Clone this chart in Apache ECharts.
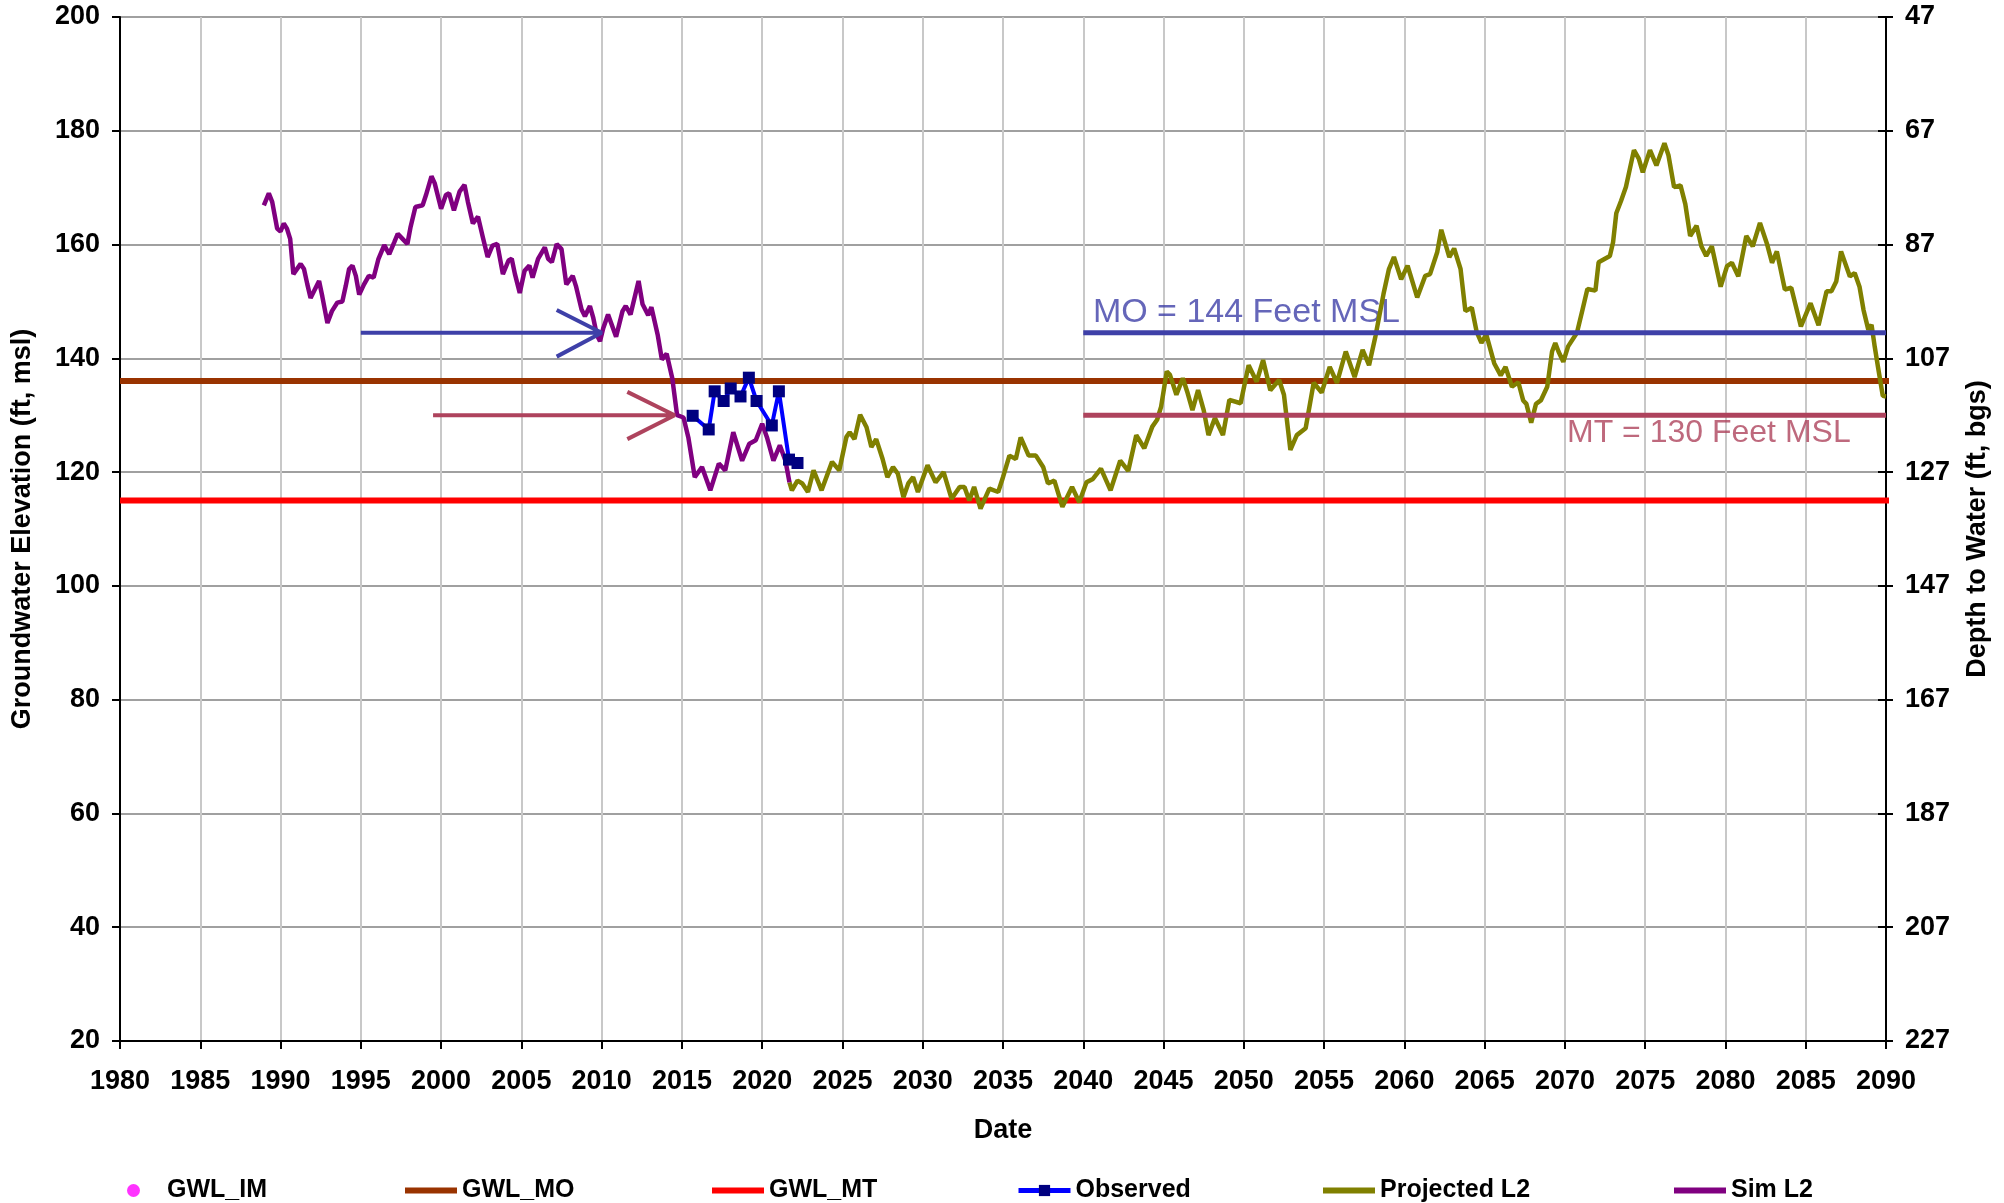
<!DOCTYPE html>
<html>
<head>
<meta charset="utf-8">
<title>Groundwater Elevation</title>
<script src="https://cdn.jsdelivr.net/npm/echarts@6/dist/echarts.min.js"></script>
<style>
  html, body { margin: 0; padding: 0; background: #fff; }
  #chart { width: 2004px; height: 1203px; }
</style>
</head>
<body>
<div id="chart"></div>
<script>
// values, [year, elevation ft msl]
const simL2 = [
  [1988.96,166.9],[1989.27,169.0],[1989.48,167.5],[1989.79,162.8],[1990.0,162.3],[1990.2,163.7],[1990.4,162.8],
  [1990.6,161.0],[1990.8,154.8],[1991.25,156.6],[1991.46,155.7],[1991.67,153.0],[1991.87,150.6],[1992.08,151.8],
  [1992.4,153.6],[1992.6,150.9],[1992.92,146.2],[1993.2,148.3],[1993.54,149.8],[1993.85,150.0],[1994.06,152.7],
  [1994.27,155.7],[1994.48,156.3],[1994.69,154.5],[1994.9,151.2],[1995.2,153.0],[1995.5,154.5],[1995.8,154.2],
  [1996.1,157.5],[1996.46,159.9],[1996.77,158.3],[1997.08,160.4],[1997.3,161.9],[1997.6,161.0],[1997.9,160.1],
  [1998.1,163.1],[1998.4,166.6],[1998.85,166.9],[1999.06,168.7],[1999.4,172.0],[1999.6,170.8],[2000.0,166.3],
  [2000.3,168.7],[2000.5,169.0],[2000.8,166.0],[2001.15,169.3],[2001.46,170.5],[2001.67,167.5],[2001.98,163.7],
  [2002.3,164.9],[2002.6,161.3],[2002.9,157.8],[2003.2,159.8],[2003.5,160.1],[2003.85,154.8],[2004.2,157.2],
  [2004.4,157.5],[2004.6,154.8],[2004.9,151.5],[2005.2,155.4],[2005.5,156.3],[2005.7,154.2],[2006.04,157.5],
  [2006.46,159.5],[2006.67,157.5],[2006.9,156.9],[2007.2,160.1],[2007.5,159.2],[2007.8,153.0],[2008.2,154.5],
  [2008.4,152.7],[2008.75,148.6],[2008.96,147.4],[2009.27,149.2],[2009.48,147.1],[2009.7,144.1],[2009.9,143.0],
  [2010.1,145.3],[2010.4,147.7],[2010.9,143.8],[2011.3,148.3],[2011.5,149.2],[2011.8,147.7],[2012.3,153.6],
  [2012.55,149.5],[2012.9,147.6],[2013.1,149.0],[2013.5,144.0],[2013.75,139.8],[2014.05,140.8],[2014.4,136.5],
  [2014.7,130.0],[2015.1,129.6],[2015.4,126.1],[2015.8,119.1],[2016.25,120.9],[2016.77,116.8],[2017.3,121.5],
  [2017.7,120.3],[2018.2,127.0],[2018.75,122.0],[2019.2,125.0],[2019.6,125.6],[2020.0,128.5],[2020.3,126.1],
  [2020.7,122.0],[2021.1,124.7],[2021.45,122.0],[2021.7,118.2]
];

const observed = [
  [2015.67,129.9],[2016.67,127.5],[2017.04,134.2],[2017.6,132.5],[2018.04,134.7],[2018.65,133.3],
  [2019.17,136.6],[2019.65,132.5],[2020.6,128.2],[2021.04,134.2],[2021.67,122.2],[2022.2,121.6]
];

const projectedL2 = [
  [2021.7,118.2],[2021.85,116.8],[2022.2,118.5],[2022.5,118.0],[2022.85,116.5],[2023.2,120.3],[2023.7,116.8],
  [2024.35,121.8],[2024.8,120.3],[2025.25,126.2],[2025.45,127.0],[2025.75,125.8],[2026.1,130.1],[2026.5,127.9],
  [2026.8,124.4],[2027.1,125.8],[2027.5,122.3],[2027.8,119.1],[2028.15,120.9],[2028.45,119.7],[2028.8,115.6],
  [2029.1,118.0],[2029.4,119.1],[2029.7,116.5],[2030.3,121.2],[2030.8,118.2],[2031.3,120.0],[2031.8,115.3],
  [2032.3,117.4],[2032.6,117.4],[2032.9,115.0],[2033.2,117.4],[2033.6,113.6],[2034.15,117.1],[2034.7,116.5],
  [2035.0,119.1],[2035.4,122.9],[2035.8,122.3],[2036.1,126.1],[2036.6,122.9],[2037.05,122.9],[2037.5,120.9],
  [2037.8,118.0],[2038.2,118.5],[2038.7,113.9],[2039.3,117.4],[2039.75,114.7],[2040.2,118.2],[2040.6,118.8],
  [2041.1,120.6],[2041.7,116.8],[2042.3,122.0],[2042.8,120.2],[2043.3,126.5],[2043.8,124.2],[2044.3,128.0],
  [2044.6,129.2],[2044.85,131.5],[2045.2,137.7],[2045.4,137.1],[2045.8,133.6],[2046.2,136.5],[2046.5,133.9],
  [2046.8,130.9],[2047.15,134.4],[2047.5,130.9],[2047.8,126.5],[2048.2,129.5],[2048.7,126.5],[2049.1,132.7],
  [2049.8,132.1],[2050.3,138.8],[2050.8,135.9],[2051.2,139.7],[2051.65,134.4],[2052.2,136.2],[2052.5,133.6],
  [2052.9,123.9],[2053.3,126.5],[2053.85,127.7],[2054.35,135.7],[2054.85,134.0],[2055.35,138.5],[2055.8,135.7],
  [2056.35,141.2],[2056.9,136.7],[2057.4,141.5],[2057.8,138.8],[2058.2,143.9],[2058.7,151.3],[2059.04,155.7],
  [2059.35,157.8],[2059.8,153.9],[2060.2,156.3],[2060.8,150.7],[2061.3,154.5],[2061.6,154.8],[2062.05,158.7],
  [2062.3,162.6],[2062.8,157.8],[2063.1,159.3],[2063.5,155.7],[2063.8,148.3],[2064.2,148.9],[2064.5,144.7],
  [2064.8,142.7],[2065.1,144.2],[2065.6,139.1],[2066.0,137.0],[2066.3,138.5],[2066.7,135.0],[2067.1,135.8],
  [2067.4,132.6],[2067.6,132.0],[2067.9,128.7],[2068.2,132.0],[2068.5,132.6],[2068.9,135.0],[2069.2,141.2],
  [2069.4,142.7],[2069.6,141.2],[2069.9,139.4],[2070.2,142.1],[2070.75,144.5],[2071.1,148.6],[2071.4,152.2],
  [2071.9,151.9],[2072.1,156.9],[2072.8,158.0],[2073.0,160.4],[2073.2,165.5],[2073.5,167.7],[2073.8,170.1],
  [2074.3,176.6],[2074.6,175.1],[2074.85,172.7],[2075.3,176.6],[2075.7,173.9],[2076.2,177.8],[2076.45,175.7],
  [2076.8,170.1],[2077.2,170.4],[2077.5,167.1],[2077.8,161.5],[2078.2,163.3],[2078.5,159.7],[2078.8,158.0],
  [2079.15,159.7],[2079.7,152.6],[2080.1,156.2],[2080.4,156.8],[2080.8,154.4],[2081.3,161.5],[2081.7,159.7],
  [2082.15,163.8],[2082.6,160.0],[2082.9,156.8],[2083.2,158.8],[2083.7,152.1],[2084.1,152.4],[2084.7,145.6],
  [2085.3,149.7],[2085.8,145.8],[2086.3,151.8],[2086.6,151.8],[2086.9,153.5],[2087.2,158.8],[2087.75,154.4],
  [2088.05,155.0],[2088.35,152.6],[2088.6,148.5],[2088.9,145.0],[2089.1,145.9],[2089.3,142.0],[2089.5,138.5],
  [2089.8,133.4],[2090.0,133.3]
];

// threshold lines
const gwlMO = [[1980,136],[2091,136]];
const gwlMT = [[1980,115],[2091,115]];
const moLine = [[2040,144.5],[2090,144.5]];
const mtLine = [[2040,130],[2090,130]];
// arrows: shaft start, tip, wing, tip, wing
const moArrow = [[1995,144.5],[2010,144.5],[2007.2,148.5],[2010,144.5],[2007.2,140.3]];
const mtArrow = [[1999.5,130],[2014.55,130],[2011.6,134.1],[2014.55,130],[2011.6,125.8]];

const groundSurface = 247; // depth = 247 - elevation
const FONT = 'Liberation Sans, Arial, sans-serif';
const MO_COLOR = '#3E40A8';
const MT_COLOR = '#AE435D';

const legendNames = ['GWL_IM', 'GWL_MO', 'GWL_MT', 'Observed', 'Projected L2', 'Sim L2'];
const legendLeft = [127, 405, 712, 1016, 1323, 1674];

const chart = echarts.init(document.getElementById('chart'));

function lineSeries(name, data, color, width, extra) {
  return Object.assign({
    name: name,
    type: 'line',
    data: data,
    showSymbol: false,
    symbol: 'none',
    lineStyle: { color: color, width: width },
    itemStyle: { color: color },
    silent: true,
    animation: false
  }, extra || {});
}

const axisText = { color: '#000', fontFamily: FONT, fontWeight: 'bold', fontSize: 27 };
const nameText = { color: '#000', fontFamily: FONT, fontWeight: 'bold', fontSize: 27 };
const legendText = { color: '#000', fontFamily: FONT, fontWeight: 'bold', fontSize: 25 };

function buildLegend(n, i) {
  const base = {
    left: legendLeft[i],
    top: 1178,
    padding: 0,
    selectedMode: false,
    textStyle: legendText
  };
  if (n === 'GWL_IM') {
    return Object.assign(base, {
      data: [{ name: n, icon: 'circle' }],
      itemWidth: 13, itemHeight: 13,
      textStyle: Object.assign({ padding: [0, 0, 0, 22] }, legendText)
    });
  }
  if (n === 'Observed') {
    return Object.assign(base, { data: [n], itemWidth: 52, itemHeight: 14, lineStyle: { width: 5 } });
  }
  return Object.assign(base, { data: [{ name: n, icon: 'rect' }], itemWidth: 52, itemHeight: 6 });
}

const option = {
  backgroundColor: '#fff',
  animation: false,
  grid: { left: 120, right: 118, top: 17, bottom: 162, containLabel: false },
  legend: legendNames.map(buildLegend),
  xAxis: {
    type: 'value',
    min: 1980, max: 2090, interval: 5,
    name: 'Date',
    nameLocation: 'middle',
    nameGap: 76,
    nameTextStyle: nameText,
    axisLine: { lineStyle: { color: '#000', width: 2 } },
    axisTick: { show: true, length: 8, lineStyle: { color: '#000', width: 2 } },
    axisLabel: Object.assign({ margin: 27, formatter: v => String(v) }, axisText),
    splitLine: { show: true, lineStyle: { color: '#c8c8c8', width: 2 } }
  },
  yAxis: [
    {
      type: 'value',
      position: 'left',
      min: 20, max: 200, interval: 20,
      name: 'Groundwater Elevation (ft, msl)',
      nameLocation: 'middle',
      nameGap: 84,
      nameTextStyle: nameText,
      axisLine: { show: true, lineStyle: { color: '#000', width: 2 } },
      axisTick: { show: true, length: 8, lineStyle: { color: '#000', width: 2 } },
      axisLabel: Object.assign({ margin: 20 }, axisText),
      splitLine: { show: true, lineStyle: { color: '#a0a0a0', width: 2 } }
    },
    {
      type: 'value',
      position: 'right',
      min: 20, max: 200, interval: 20,
      name: 'Depth to Water (ft, bgs)',
      nameLocation: 'middle',
      nameGap: 78,
      nameRotate: 90,
      nameTextStyle: nameText,
      axisLine: { show: true, lineStyle: { color: '#000', width: 2 } },
      axisTick: { show: true, length: 7, lineStyle: { color: '#000', width: 2 } },
      axisLabel: Object.assign({ margin: 19, formatter: v => String(groundSurface - v) }, axisText),
      splitLine: { show: false }
    },
    {
      // inside half of the right-hand ticks
      type: 'value',
      position: 'right',
      min: 20, max: 200, interval: 20,
      axisLine: { show: false },
      axisTick: { show: true, inside: true, length: 8, lineStyle: { color: '#000', width: 2 } },
      axisLabel: { show: false },
      splitLine: { show: false }
    }
  ],
  series: [
    { name: 'GWL_IM', type: 'scatter', data: [], itemStyle: { color: '#FF00FF' } },
    lineSeries('GWL_MO', gwlMO, '#993300', 6, { clip: false }),
    lineSeries('GWL_MT', gwlMT, '#FF0000', 6, { clip: false }),
    lineSeries('Projected L2', projectedL2, '#808000', 4.5),
    lineSeries('Sim L2', simL2, '#800080', 4.5),
    lineSeries('Observed', observed, '#0000FF', 4, {
      showSymbol: true,
      symbol: 'rect',
      symbolSize: 12,
      itemStyle: { color: '#000080' }
    }),
    lineSeries('MO line', moLine, MO_COLOR, 5),
    lineSeries('MT line', mtLine, MT_COLOR, 5),
    lineSeries('MO arrow', moArrow, MO_COLOR, 4),
    lineSeries('MT arrow', mtArrow, MT_COLOR, 4),
    {
      name: 'labels',
      type: 'scatter',
      symbolSize: 0,
      silent: true,
      data: [
        { value: [2040.6, 148], label: { show: true, position: 'right', distance: 0, formatter: 'MO = 144 Feet MSL', color: MO_COLOR, fontSize: 34 } },
        { value: [2087.8, 126.8], label: { show: true, position: 'left', distance: 0, formatter: 'MT = 130 Feet MSL', color: MT_COLOR, fontSize: 32 } }
      ],
      label: { fontFamily: FONT }
    }
  ]
};

chart.setOption(option);
</script>
</body>
</html>
